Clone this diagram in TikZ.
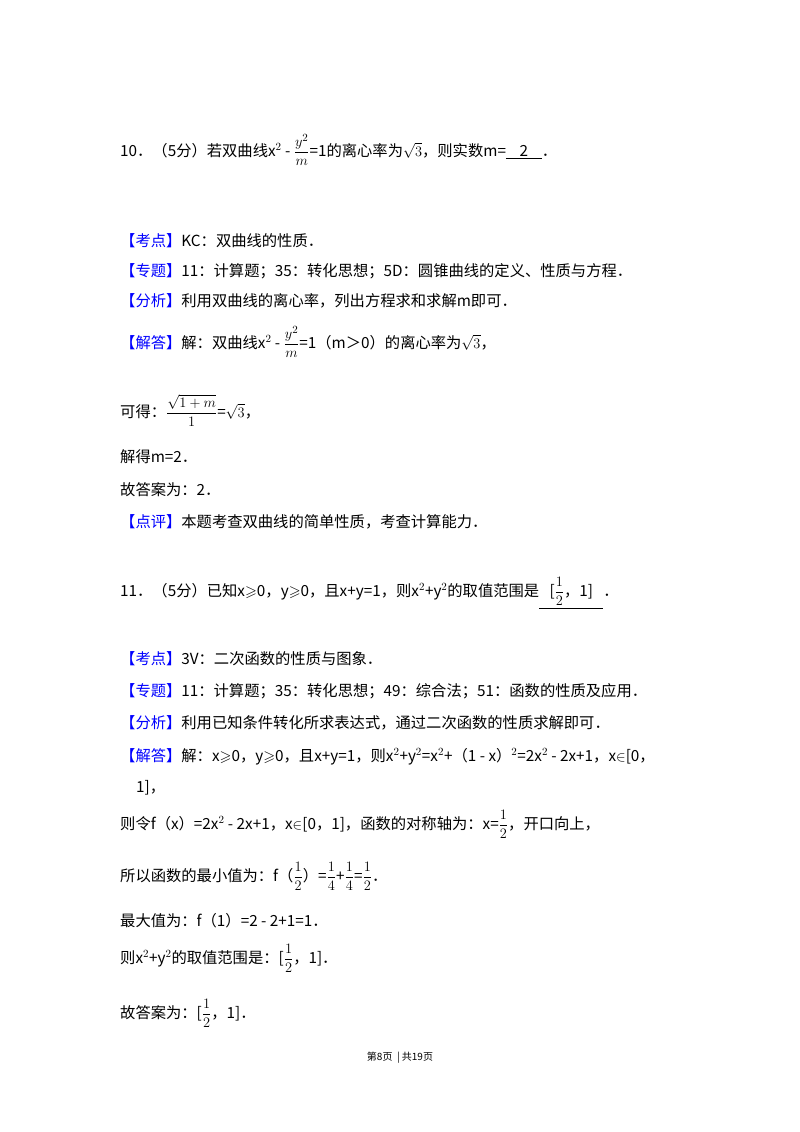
\documentclass[tikz,border=0pt]{standalone}
\usepackage{fontspec}
\usepackage{amsmath,amssymb}
\setmainfont{Noto Sans CJK SC}
\newcommand{\lb}[1]{{\color{blue}【#1】}}
\begin{document}
\begin{tikzpicture}[x=1pt,y=-1pt,
  t/.style={anchor=base west,inner sep=0pt,font=\fontsize{15.3}{17}\selectfont},
  f/.style={anchor=base,inner sep=0pt,font=\fontsize{10}{11}\selectfont}]
\fill[white] (0,0) rectangle (800,1132);
\node[t] (q10) at (120,156) {10．（5分）若双曲线x$^2$ - $\dfrac{y^2}{m}$=1的离心率为$\sqrt{3}$，则实数m=\underline{\ \ \ \ 2\ \ \ \ }．};
\node[t] (a1) at (120,246) {\lb{考点}KC：双曲线的性质．};
\node[t] (a2) at (120,276) {\lb{专题}11：计算题；35：转化思想；5D：圆锥曲线的定义、性质与方程．};
\node[t] (a3) at (120,306) {\lb{分析}利用双曲线的离心率，列出方程求和求解m即可．};
\node[t] (a4) at (120,348) {\lb{解答}解：双曲线x$^2$ - $\dfrac{y^2}{m}$=1（m＞0）的离心率为$\sqrt{3}$，};
\node[t] (a5) at (120,417) {可得：$\dfrac{\sqrt{1+m}}{1}$=$\sqrt{3}$，};
\node[t] (a6) at (120,462) {解得m=2．};
\node[t] (a7) at (120,495) {故答案为：2．};
\node[t] (a8) at (120,527) {\lb{点评}本题考查双曲线的简单性质，考查计算能力．};
\node[t] (q11) at (120,596) {11．（5分）已知x$\geqslant$0，y$\geqslant$0，且x+y=1，则x$^2$+y$^2$的取值范围是\underline{\ \ \ [$\dfrac12$，1]\ \ \ }．};
\node[t] (b1) at (120,664) {\lb{考点}3V：二次函数的性质与图象．};
\node[t] (b2) at (120,696) {\lb{专题}11：计算题；35：转化思想；49：综合法；51：函数的性质及应用．};
\node[t] (b3) at (120,728) {\lb{分析}利用已知条件转化所求表达式，通过二次函数的性质求解即可．};
\node[t] (b4) at (120,761) {\lb{解答}解：x$\geqslant$0，y$\geqslant$0，且x+y=1，则x$^2$+y$^2$=x$^2$+（1 - x）$^2$=2x$^2$ - 2x+1，x$\in$[0，};
\node[t] (b5) at (136,792) {1]，};
\node[t] (b6) at (120,829) {则令f（x）=2x$^2$ - 2x+1，x$\in$[0，1]，函数的对称轴为：x=$\dfrac12$，开口向上，};
\node[t] (b7) at (120,881) {所以函数的最小值为：f（$\dfrac12$）=$\dfrac14$+$\dfrac14$=$\dfrac12$．};
\node[t] (b8) at (120,926) {最大值为：f（1）=2 - 2+1=1．};
\node[t] (b9) at (120,963) {则x$^2$+y$^2$的取值范围是：[$\dfrac12$，1]．};
\node[t] (b10) at (120,1018) {故答案为：[$\dfrac12$，1]．};
\node[f] (ft) at (400,1060) {第8页\ \ |\ 共19页};
\end{tikzpicture}
\end{document}
